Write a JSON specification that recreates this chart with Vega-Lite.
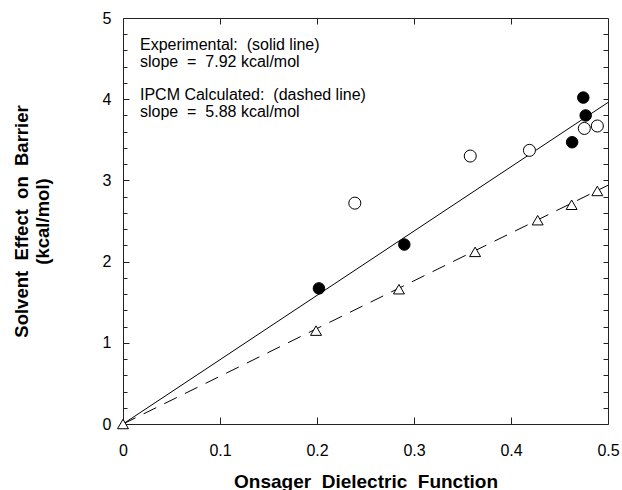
{
  "$schema": "https://vega.github.io/schema/vega-lite/v6.json",
  "autosize": "none",
  "width": 485,
  "height": 406,
  "padding": {"left": 123, "top": 18, "right": 14, "bottom": 66},
  "background": "white",
  "config": {
    "view": {"stroke": "#222", "strokeWidth": 1},
    "font": "Liberation Sans",
    "axis": {"grid": false, "labelFont": "Liberation Sans", "titleFont": "Liberation Sans", "labelColor": "black", "titleColor": "black", "domainColor": "#222", "tickColor": "#222", "tickWidth": 1}
  },
  "datasets": {
    "lines": [
      {"series": "Experimental", "x": 0, "y": 0},
      {"series": "Experimental", "x": 0.5, "y": 3.96},
      {"series": "IPCM", "x": 0, "y": 0},
      {"series": "IPCM", "x": 0.5, "y": 2.94}
    ],
    "points": [
      {"kind": "IPCM", "x": 0, "y": 0},
      {"kind": "IPCM", "x": 0.199, "y": 1.15},
      {"kind": "IPCM", "x": 0.2845, "y": 1.66},
      {"kind": "IPCM", "x": 0.363, "y": 2.12},
      {"kind": "IPCM", "x": 0.4275, "y": 2.51},
      {"kind": "IPCM", "x": 0.4625, "y": 2.7},
      {"kind": "IPCM", "x": 0.489, "y": 2.87},
      {"kind": "Experimental filled", "x": 0.202, "y": 1.67},
      {"kind": "Experimental filled", "x": 0.29, "y": 2.21},
      {"kind": "Experimental filled", "x": 0.463, "y": 3.47},
      {"kind": "Experimental filled", "x": 0.477, "y": 3.8},
      {"kind": "Experimental filled", "x": 0.4745, "y": 4.02},
      {"kind": "Experimental open", "x": 0.239, "y": 2.72},
      {"kind": "Experimental open", "x": 0.358, "y": 3.3},
      {"kind": "Experimental open", "x": 0.419, "y": 3.37},
      {"kind": "Experimental open", "x": 0.4756, "y": 3.64},
      {"kind": "Experimental open", "x": 0.489, "y": 3.67}
    ],
    "notes": [
      {"x": 0.0175, "y": 4.67, "text": "Experimental:\u00a0\u00a0(solid line)"},
      {"x": 0.0175, "y": 4.46, "text": "slope\u00a0\u00a0=\u00a0\u00a07.92 kcal/mol"},
      {"x": 0.0175, "y": 4.05, "text": "IPCM Calculated:\u00a0\u00a0(dashed line)"},
      {"x": 0.0175, "y": 3.84, "text": "slope\u00a0\u00a0=\u00a0\u00a05.88 kcal/mol"}
    ]
  },
  "resolve": {"axis": {"x": "independent", "y": "independent"}},
  "layer": [
    {
      "data": {"name": "lines"},
      "transform": [{"filter": "datum.series == 'Experimental'"}],
      "mark": {"type": "line", "color": "black", "strokeWidth": 1},
      "encoding": {
        "x": {"field": "x", "type": "quantitative", "scale": {"domain": [0, 0.5], "nice": false},
          "axis": {"orient": "bottom", "values": [0, 0.1, 0.2, 0.3, 0.4, 0.5], "labelExpr": "datum.value == 0 ? '0' : format(datum.value, '.1f')", "labelFontSize": 16, "ticks": false, "labelPadding": 18, "title": "Onsager\u00a0\u00a0Dielectric\u00a0\u00a0Function", "titleFontSize": 19, "titleFontWeight": "bold", "titlePadding": 14, "labelFlush": false}},
        "y": {"field": "y", "type": "quantitative", "scale": {"domain": [0, 5], "nice": false},
          "axis": {"orient": "left", "values": [0, 1, 2, 3, 4, 5], "labelFontSize": 16, "ticks": false, "labelPadding": 12, "title": ["Solvent\u00a0\u00a0Effect\u00a0\u00a0on\u00a0\u00a0Barrier", "(kcal/mol)"], "titleFontSize": 18.5, "titleFontWeight": "bold", "titlePadding": 50, "labelFlush": false}}
      }
    },
    {
      "data": {"name": "lines"},
      "transform": [{"filter": "datum.series == 'IPCM'"}],
      "mark": {"type": "line", "color": "black", "strokeWidth": 1, "strokeDash": [14, 9]},
      "encoding": {
        "x": {"field": "x", "type": "quantitative", "scale": {"domain": [0, 0.5], "nice": false},
          "axis": {"orient": "top", "offset": -406, "values": [0.1, 0.2, 0.3, 0.4], "labels": false, "tickSize": 7, "title": null, "domain": false}},
        "y": {"field": "y", "type": "quantitative", "scale": {"domain": [0, 5], "nice": false},
          "axis": {"orient": "right", "offset": -485, "values": [1, 2, 3, 4], "labels": false, "tickSize": 6, "title": null, "domain": false}}
      }
    },
    {
      "data": {"name": "points"},
      "mark": {"type": "point", "filled": false, "stroke": "black", "strokeWidth": 1, "opacity": 1},
      "encoding": {
        "x": {"field": "x", "type": "quantitative", "scale": {"domain": [0, 0.5], "nice": false},
          "axis": {"orient": "bottom", "offset": -406, "values": [0.1, 0.2, 0.3, 0.4], "labels": false, "tickSize": 6, "title": null, "domain": false}},
        "y": {"field": "y", "type": "quantitative", "scale": {"domain": [0, 5], "nice": false},
          "axis": {"orient": "right", "offset": -485, "values": [0.2, 0.4, 0.6, 0.8, 1.2, 1.4, 1.6, 1.8, 2.2, 2.4, 2.6, 2.8, 3.2, 3.4, 3.6, 3.8, 4.2, 4.4, 4.6, 4.8], "labels": false, "tickSize": 4, "title": null, "domain": false}},
        "shape": {"field": "kind", "type": "nominal", "scale": {"domain": ["IPCM", "Experimental filled", "Experimental open"], "range": ["triangle-up", "circle", "circle"]}, "legend": null},
        "fill": {"field": "kind", "type": "nominal", "scale": {"domain": ["IPCM", "Experimental filled", "Experimental open"], "range": ["white", "black", "white"]}, "legend": null},
        "size": {"field": "kind", "type": "nominal", "scale": {"domain": ["IPCM", "Experimental filled", "Experimental open"], "range": [120, 145, 135]}, "legend": null}
      }
    },
    {
      "data": {"name": "notes"},
      "mark": {"type": "text", "align": "left", "baseline": "middle", "fontSize": 16, "color": "black", "font": "Liberation Sans"},
      "encoding": {
        "x": {"field": "x", "type": "quantitative", "scale": {"domain": [0, 0.5], "nice": false}, "axis": null},
        "y": {"field": "y", "type": "quantitative", "scale": {"domain": [0, 5], "nice": false},
          "axis": {"orient": "left", "offset": -485, "values": [0.2, 0.4, 0.6, 0.8, 1, 1.2, 1.4, 1.6, 1.8, 2, 2.2, 2.4, 2.6, 2.8, 3, 3.2, 3.4, 3.6, 3.8, 4, 4.2, 4.4, 4.6, 4.8], "labels": false, "tickSize": 5, "title": null, "domain": false}},
        "text": {"field": "text"}
      }
    }
  ]
}
